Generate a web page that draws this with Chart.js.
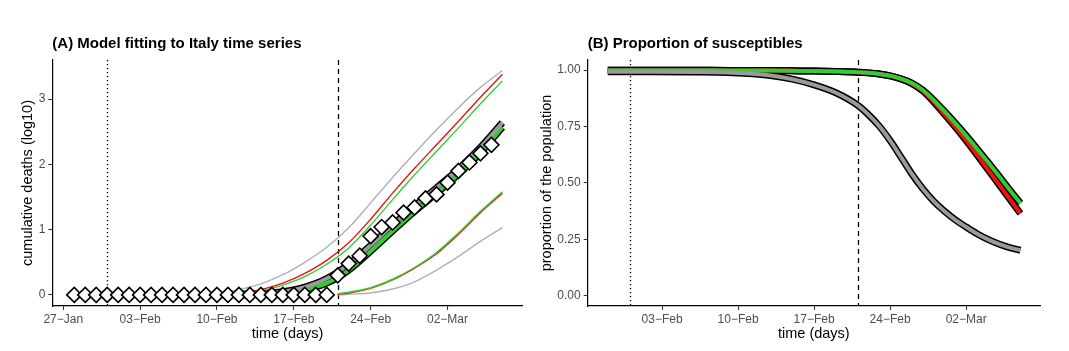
<!DOCTYPE html>
<html>
<head>
<meta charset="utf-8">
<script src="https://cdn.jsdelivr.net/npm/chart.js@4.4.0/dist/chart.umd.min.js"></script>
<style>
  html, body { margin: 0; padding: 0; background: #fff; }
  #wrap { position: relative; width: 1069px; height: 351px; }
  canvas { position: absolute; top: 0; }
  #chartA { left: 0; }
  #chartB { left: 535px; }
</style>
</head>
<body>
<div id="wrap">
  <canvas id="chartA" width="535" height="351"></canvas>
  <canvas id="chartB" width="534" height="351"></canvas>
</div>
<script>
// days counted from 27-Jan
const tickDays = [0, 7, 14, 21, 28, 35];
const tickLabels = ['27−Jan', '03−Feb', '10−Feb', '17−Feb', '24−Feb', '02−Mar'];
const vlineDays = [4, 25]; // 31-Jan (dotted), 21-Feb (dashed)

const yTicksA = [0, 1, 2, 3];
const yTicksB = [0, 0.25, 0.5, 0.75, 1];
const yLabelsB = ['0.00', '0.25', '0.50', '0.75', '1.00'];

// observed cumulative deaths (log10), Italy
const obsDays = [1, 2, 3, 4, 5, 6, 7, 8, 9, 10, 11, 12, 13, 14, 15, 16, 17, 18, 19, 20,
                 21, 22, 23, 24, 25, 26, 27, 28, 29, 30, 31, 32, 33, 34, 35, 36, 37, 38, 39];
const obsLogDeaths = [0, 0, 0, 0, 0, 0, 0, 0, 0, 0, 0, 0, 0, 0, 0, 0, 0, 0, 0, 0,
                      0, 0, 0, 0, 0.30, 0.48, 0.60, 0.90, 1.04, 1.11, 1.26, 1.34, 1.48, 1.54,
                      1.72, 1.90, 2.03, 2.17, 2.30];

// model fits (thick)
const fitDays = [16, 18, 20, 22, 24, 26, 28, 30, 32, 34, 36, 38, 40];
const fitGray = [0.01, 0.02, 0.05, 0.12, 0.25, 0.47, 0.76, 1.07, 1.36, 1.64, 1.93, 2.26, 2.64];
const fitGreen = [0.0, 0.01, 0.03, 0.08, 0.18, 0.38, 0.67, 0.98, 1.28, 1.56, 1.85, 2.18, 2.57];

// upper bounds (thin)
const upDays = [12, 14, 16, 18, 20, 22, 24, 26, 28, 30, 32, 34, 36, 38, 40];
const upGray = [0, 0.03, 0.08, 0.17, 0.31, 0.50, 0.73, 1.03, 1.41, 1.80, 2.17, 2.53, 2.87, 3.18, 3.44];
const upRed = [0, 0.01, 0.03, 0.08, 0.18, 0.33, 0.53, 0.80, 1.16, 1.56, 1.94, 2.30, 2.66, 3.03, 3.38];
const upGreen = [0, 0.01, 0.02, 0.06, 0.15, 0.28, 0.47, 0.72, 1.07, 1.46, 1.84, 2.20, 2.56, 2.93, 3.28];

// lower bounds (thin)
const lowDays = [25, 26, 28, 30, 32, 34, 36, 38, 40];
const lowGray = [0.0, 0.01, 0.03, 0.09, 0.20, 0.38, 0.59, 0.82, 1.03];
const lowRed = [0.01, 0.03, 0.10, 0.23, 0.41, 0.63, 0.93, 1.26, 1.56];
const lowGreen = [0.02, 0.04, 0.11, 0.24, 0.42, 0.65, 0.95, 1.28, 1.58];

// proportion of susceptibles
const susDays = [2, 6, 10, 13, 15, 17, 19, 21, 23, 25, 26, 27, 28, 29, 30, 31, 32, 33,
                 34, 35, 36, 37, 38, 39, 40];
const susGray = [0.993, 0.993, 0.992, 0.990, 0.985, 0.976, 0.960, 0.935, 0.900, 0.845, 0.803,
                 0.752, 0.688, 0.615, 0.540, 0.475, 0.420, 0.375, 0.337, 0.305, 0.275, 0.250,
                 0.230, 0.214, 0.202];
const susGreen = [1.0, 1.0, 1.0, 0.999, 0.999, 0.998, 0.997, 0.996, 0.994, 0.991, 0.988,
                  0.983, 0.975, 0.962, 0.943, 0.912, 0.868, 0.818, 0.765, 0.710, 0.652, 0.593,
                  0.532, 0.470, 0.410];
const susRed = [1.0, 1.0, 1.0, 0.999, 0.999, 0.998, 0.997, 0.996, 0.994, 0.991, 0.988,
                0.983, 0.975, 0.961, 0.940, 0.908, 0.860, 0.805, 0.748, 0.688, 0.625, 0.560,
                0.495, 0.430, 0.365];

const FONT = '"Liberation Sans", Arial, Helvetica, sans-serif';
const GRAY = '#9a9a9a', THIN_GRAY = '#b0b0b0', RED = '#ee1111', GREEN = '#33cc33';

function pts(days, vals) {
    return days.map((d, i) => ({ x: d, y: vals[i] }));
}

function line(data, color, width) {
    return {
        data, borderColor: color, borderWidth: width, pointRadius: 0,
        fill: false, cubicInterpolationMode: 'monotone', borderCapStyle: 'butt'
    };
}

// first in list is drawn first (bottom)
function stack(list) {
    return list.map((ds, i) => Object.assign(ds, { order: list.length - i }));
}

const vlinePlugin = {
    id: 'vlines',
    beforeDatasetsDraw(chart) {
        const { ctx, chartArea, scales } = chart;
        ctx.save();
        ctx.strokeStyle = '#000';
        ctx.lineWidth = 1.3;
        vlineDays.forEach((d, i) => {
            ctx.setLineDash(i === 0 ? [1.3, 2.7] : [5, 4]);
            const px = Math.round(scales.x.getPixelForValue(d)) + 0.5;
            ctx.beginPath();
            ctx.moveTo(px, chartArea.top);
            ctx.lineTo(px, chartArea.bottom);
            ctx.stroke();
        });
        ctx.restore();
    }
};

function xAxis(min, max, ticks) {
    return {
        type: 'linear', min, max,
        afterBuildTicks: s => { s.ticks = ticks.map(v => ({ value: v })); },
        afterFit: s => { s.height = 45; },
        ticks: {
            callback: v => tickLabels[tickDays.indexOf(v)],
            color: '#4d4d4d', font: { size: 12, family: FONT },
            padding: 2, maxRotation: 0, autoSkip: false
        },
        grid: { drawOnChartArea: false, drawTicks: true, tickLength: 4, color: '#333', tickWidth: 1.1 },
        border: { display: true, color: '#000', width: 1.2 },
        title: {
            display: true, text: 'time (days)', color: '#000',
            font: { size: 14.5, family: FONT }, padding: { top: 0, bottom: 8.3 }
        }
    };
}

function yAxis(min, max, ticks, labelFn, width, title, titlePad) {
    return {
        type: 'linear', min, max,
        afterBuildTicks: s => { s.ticks = ticks.map(v => ({ value: v })); },
        afterFit: s => { s.width = width; },
        ticks: {
            callback: labelFn,
            color: '#4d4d4d', font: { size: 12, family: FONT }, padding: 3
        },
        grid: { drawOnChartArea: false, drawTicks: true, tickLength: 4, color: '#333', tickWidth: 1.1 },
        border: { display: true, color: '#000', width: 1.2 },
        title: {
            display: true, text: title, color: '#000',
            font: { size: 14.5, family: FONT }, padding: { top: titlePad, bottom: 0 }
        }
    };
}

function baseOptions(titleText, rightPad) {
    return {
        responsive: false,
        animation: false,
        layout: { padding: { top: 30, left: 0, right: rightPad, bottom: 0 } },
        plugins: {
            legend: { display: false },
            tooltip: { enabled: false },
            title: {
                display: true, text: titleText, align: 'start', fullSize: false,
                color: '#000', font: { size: 15, weight: 'bold', family: FONT },
                padding: { top: 5, bottom: 7 }
            }
        }
    };
}

// (A) model fitting
const optsA = baseOptions('(A) Model fitting to Italy time series', 12.3);
optsA.scales = {
    x: xAxis(-1.0, 41.85, tickDays),
    y: yAxis(-0.17, 3.6, yTicksA, v => String(v), 52.3, 'cumulative deaths (log10)', 19.3)
};

new Chart(document.getElementById('chartA'), {
    type: 'line',
    data: {
        datasets: stack([
            line(pts(fitDays, fitGray), '#000', 7),
            line(pts(fitDays, fitGreen), '#000', 7),
            line(pts(fitDays, fitGreen), GREEN, 4),
            line(pts(fitDays, fitGray), GRAY, 4),
            line(pts(upDays, upGray), THIN_GRAY, 1.4),
            line(pts(upDays, upRed), RED, 1.4),
            line(pts(upDays, upGreen), GREEN, 1.4),
            line(pts(lowDays, lowGray), THIN_GRAY, 1.4),
            line(pts(lowDays, lowRed), RED, 1.4),
            line(pts(lowDays, lowGreen), GREEN, 1.4),
            {
                data: pts(obsDays, obsLogDeaths), showLine: false,
                pointStyle: 'rectRot', pointRadius: 7.5, pointBorderWidth: 1.6,
                pointBackgroundColor: '#fff', pointBorderColor: '#000'
            }
        ])
    },
    options: optsA,
    plugins: [vlinePlugin]
});

// (B) susceptibles
const optsB = baseOptions('(B) Proportion of susceptibles', 29);
optsB.scales = {
    x: xAxis(0.15, 41.8, tickDays.slice(1)),
    y: yAxis(-0.045, 1.045, yTicksB, v => yLabelsB[yTicksB.indexOf(v)], 52.7, 'proportion of the population', 3.3)
};

new Chart(document.getElementById('chartB'), {
    type: 'line',
    data: {
        datasets: stack([
            line(pts(susDays, susRed), '#000', 7),
            line(pts(susDays, susGreen), '#000', 7),
            line(pts(susDays, susGray), '#000', 7),
            line(pts(susDays, susRed), RED, 4),
            line(pts(susDays, susGreen), GREEN, 4),
            line(pts(susDays, susGray), GRAY, 4)
        ])
    },
    options: optsB,
    plugins: [vlinePlugin]
});
</script>
</body>
</html>
